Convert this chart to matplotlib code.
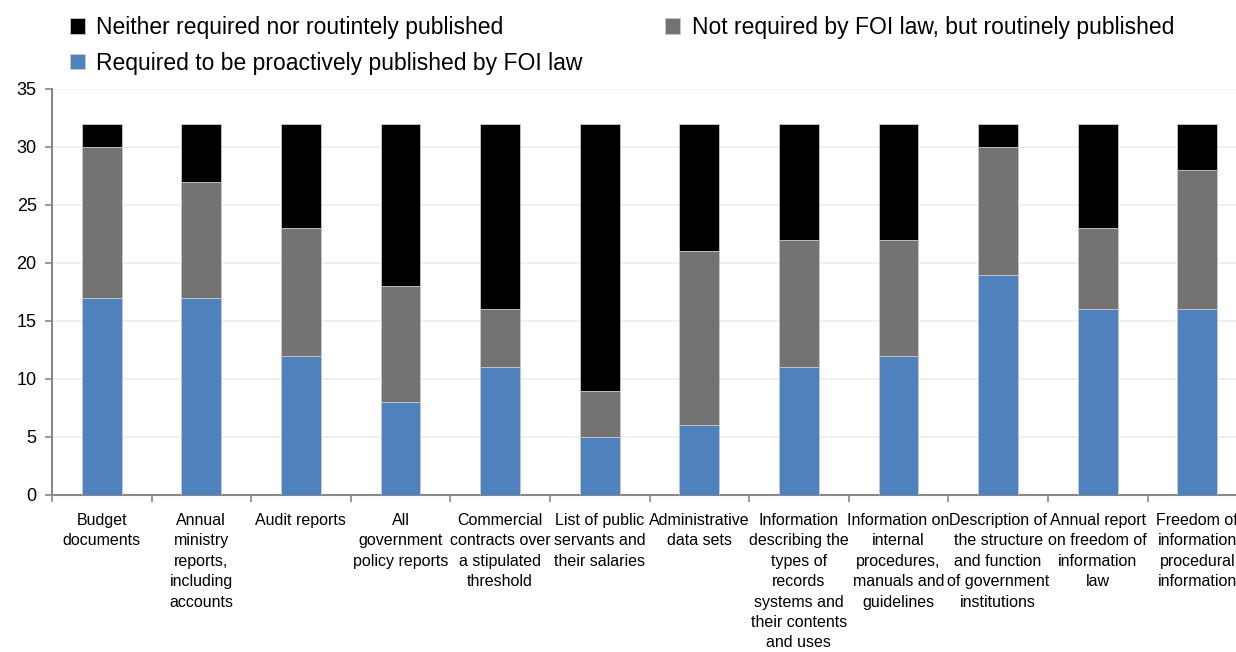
import numpy as np
import matplotlib.pyplot as plt

plt.rcParams['font.family'] = ['Liberation Sans', 'DejaVu Sans']

categories = [
    "Budget\ndocuments",
    "Annual\nministry\nreports,\nincluding\naccounts",
    "Audit reports",
    "All\ngovernment\npolicy reports",
    "Commercial\ncontracts over\na stipulated\nthreshold",
    "List of public\nservants and\ntheir salaries",
    "Administrative\ndata sets",
    "Information\ndescribing the\ntypes of\nrecords\nsystems and\ntheir contents\nand uses",
    "Information on\ninternal\nprocedures,\nmanuals and\nguidelines",
    "Description of\nthe structure\nand function\nof government\ninstitutions",
    "Annual report\non freedom of\ninformation\nlaw",
    "Freedom of\ninformation\nprocedural\ninformation",
]
required = [17, 17, 12, 8, 11, 5, 6, 11, 12, 19, 16, 16]
routinely = [13, 10, 11, 10, 5, 4, 15, 11, 10, 11, 7, 12]
neither = [2, 5, 9, 14, 16, 23, 11, 10, 10, 2, 9, 4]

lbl_neither = "Neither required nor routintely published"
lbl_routine = "Not required by FOI law, but routinely published"
lbl_required = "Required to be proactively published by FOI law"

fig = plt.figure(figsize=(12.36, 6.52), dpi=100)
ax = fig.add_axes([0.042, 0.2408, 0.967, 0.6227])

x = np.arange(len(categories))
req = np.array(required)
rout = np.array(routinely)
nei = np.array(neither)
w = 0.4
edge = dict(edgecolor='#c8c8c8', linewidth=0.6)
b1 = ax.bar(x, req, w, color='#4f81bd', label=lbl_required, zorder=3, **edge)
b2 = ax.bar(x, rout, w, bottom=req, color='#737373', label=lbl_routine, zorder=3, **edge)
b3 = ax.bar(x, nei, w, bottom=req + rout, color='#000000', label=lbl_neither, zorder=3, **edge)

ax.set_xlim(-0.5, len(categories) - 0.5)
ax.set_ylim(0, 35)
ax.set_yticks(range(0, 36, 5))
ax.yaxis.grid(True, color='#eeeeee', linewidth=1.2, zorder=0)

ax.set_xticks(x)
ax.set_xticklabels(categories, fontsize=11.5, linespacing=1.45)
ax.set_xticks(np.arange(-0.5, len(categories), 1), minor=True)
ax.tick_params(axis='x', which='major', length=0, pad=13)
ax.tick_params(axis='x', which='minor', length=5, color='#888888', width=1.2)
ax.tick_params(axis='y', labelsize=13, length=5, color='#888888', width=1.2, pad=6)

for s in ['top', 'right']:
    ax.spines[s].set_visible(False)
for s in ['left', 'bottom']:
    ax.spines[s].set_color('#888888')
    ax.spines[s].set_linewidth(1.5)

fig.legend([b3, b1, b2], [lbl_neither, lbl_required, lbl_routine],
           ncol=2, loc='upper left', bbox_to_anchor=(0.04, 1.007),
           frameon=False, fontsize=16.5, handlelength=0.65, handleheight=0.65,
           handletextpad=0.5, columnspacing=3.6, labelspacing=0.55)

fig.savefig('out.png', dpi=100)
